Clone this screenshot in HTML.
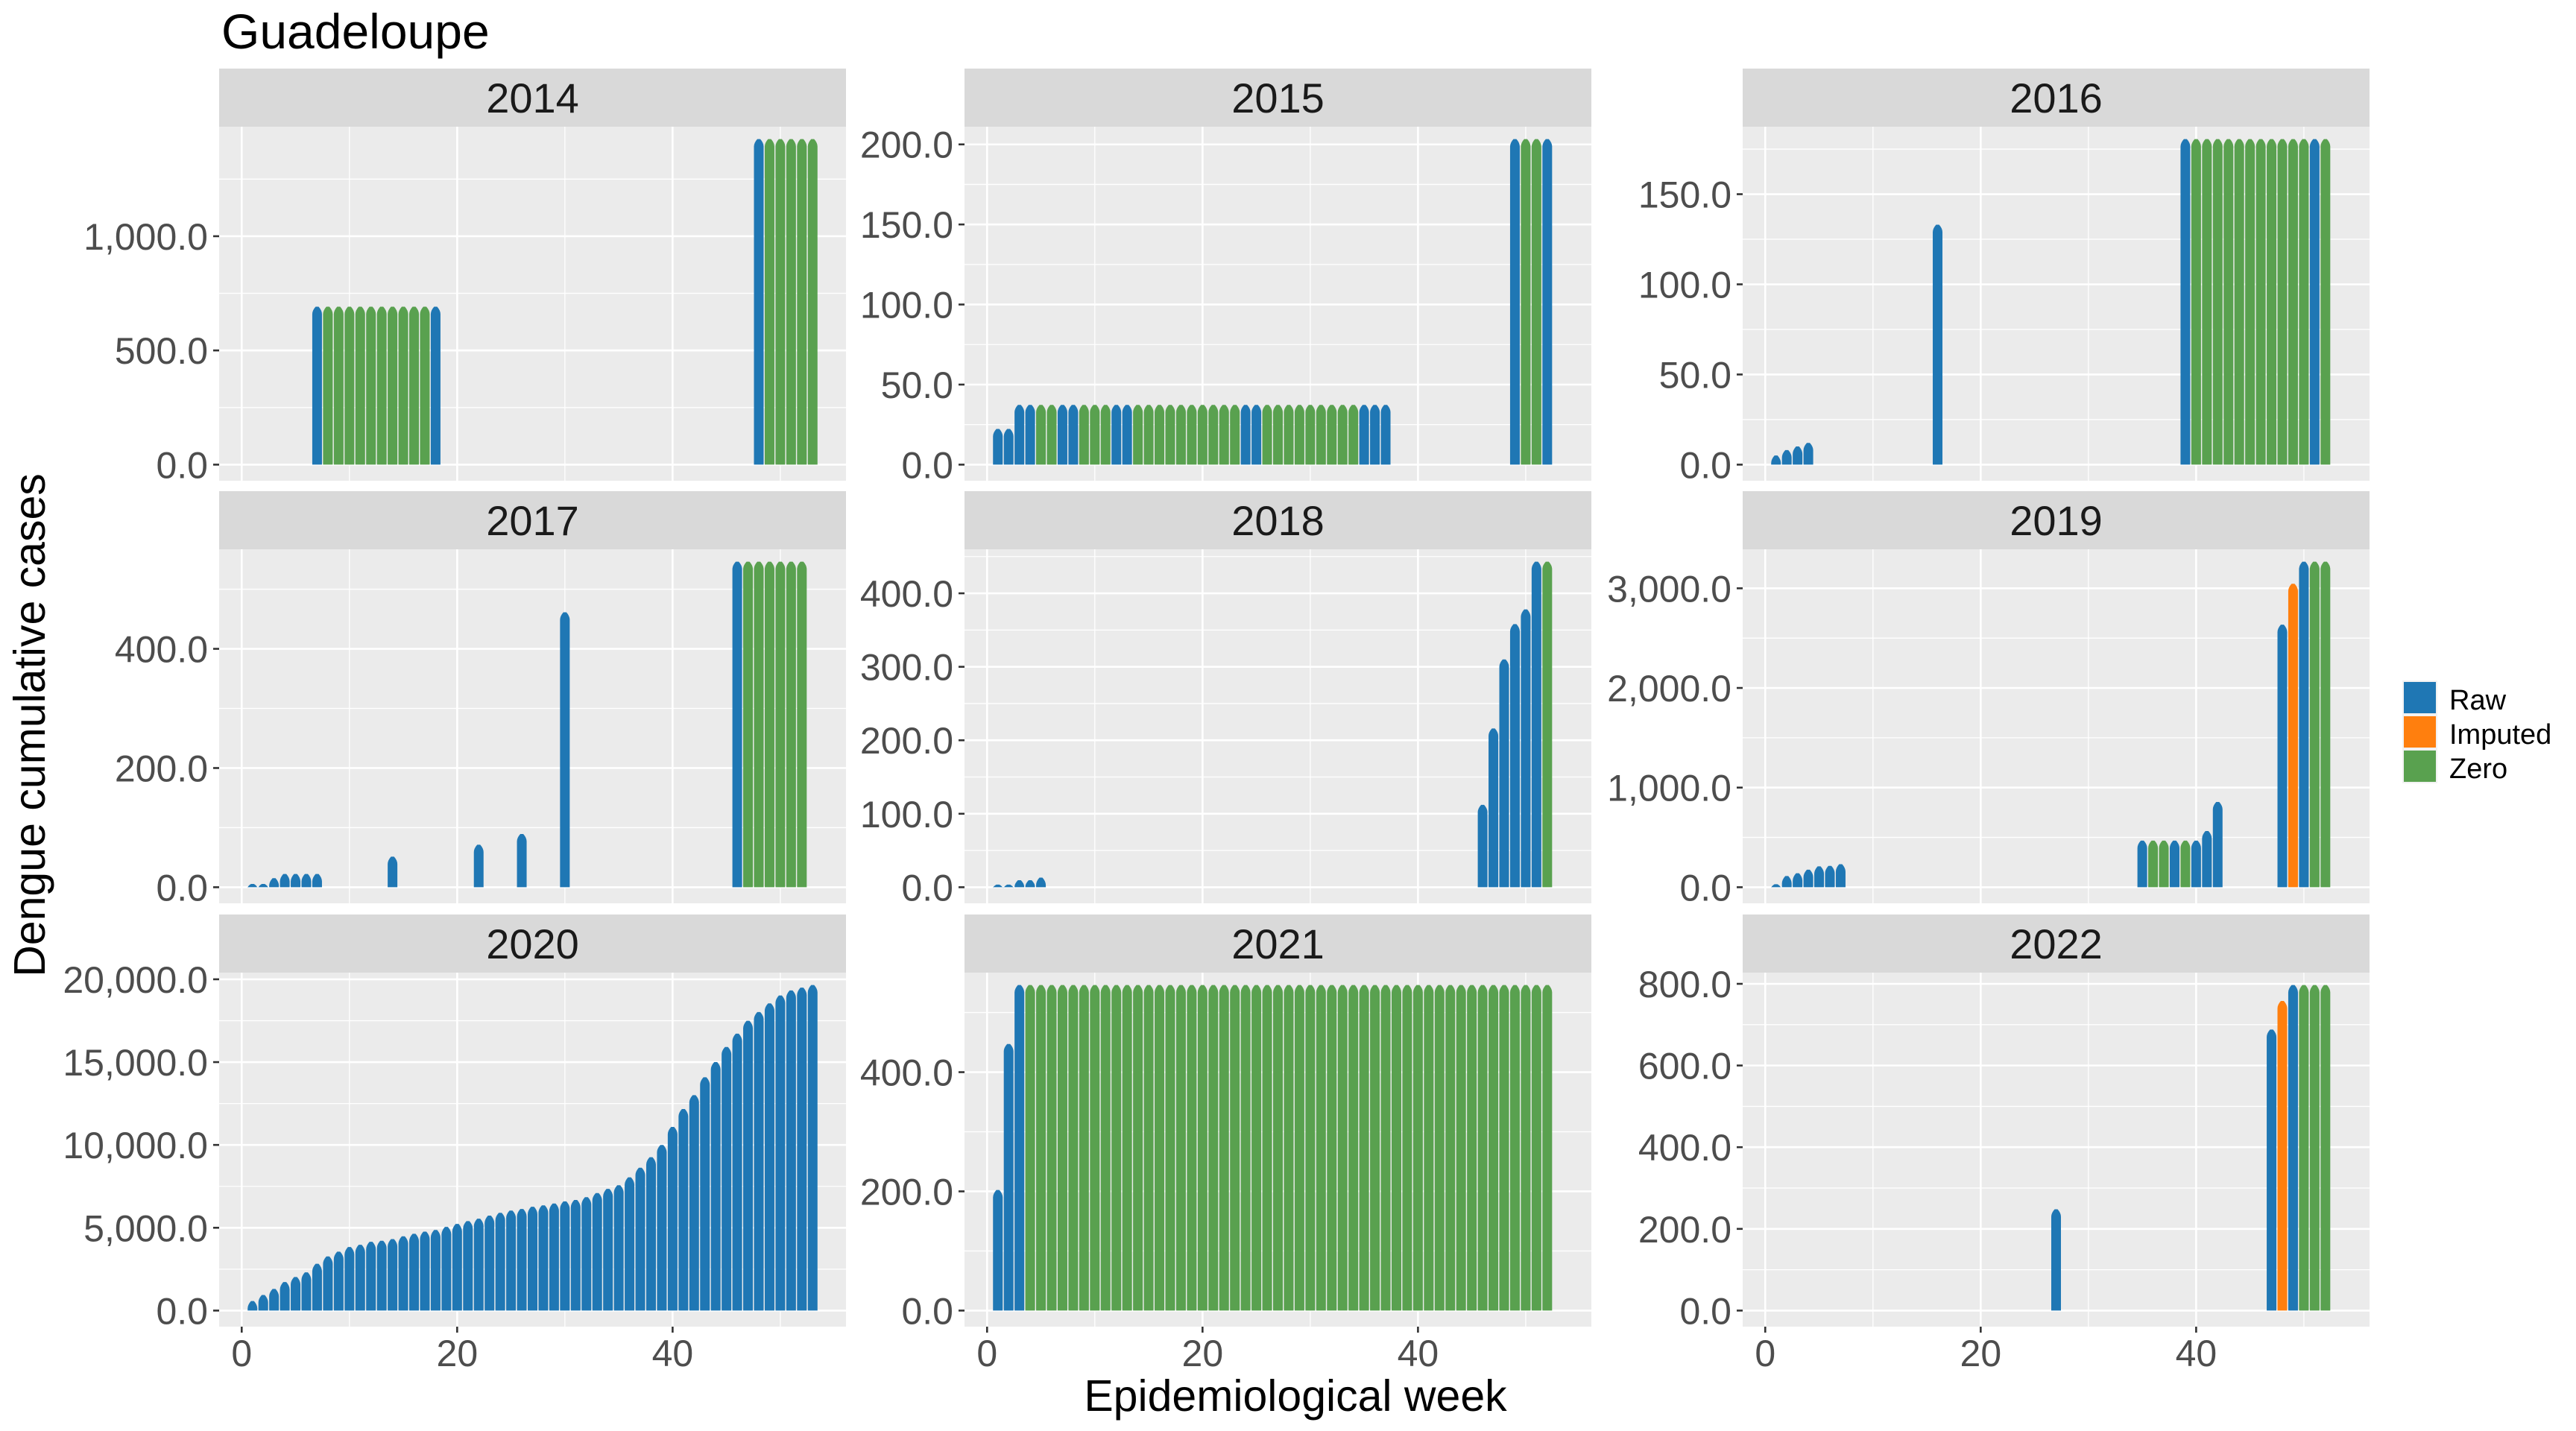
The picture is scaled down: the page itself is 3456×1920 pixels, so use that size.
<!DOCTYPE html>
<html><head><meta charset="utf-8"><title>Guadeloupe dengue cumulative cases</title>
<style>
html,body{margin:0;padding:0;background:#fff;}
svg{display:block;font-family:"Liberation Sans",Arial,sans-serif;}
</style></head>
<body>
<svg id="chart" xmlns="http://www.w3.org/2000/svg" width="3456" height="1920" viewBox="0 0 3456 1920">
<rect x="0" y="0" width="3456" height="1920" fill="#ffffff"/>
<text x="297" y="65" font-size="66" fill="#000">Guadeloupe</text>
<text transform="translate(60,973) rotate(-90)" text-anchor="middle" font-size="59" fill="#000">Dengue cumulative cases</text>
<text x="1738" y="1893" text-anchor="middle" font-size="59" fill="#000">Epidemiological week</text>
<g>
<rect x="3223" y="913" width="47" height="138" fill="#f2f2f2"/>
<rect x="3225" y="915" width="43" height="42" fill="#1f77b4"/>
<rect x="3225" y="961" width="43" height="42" fill="#ff7f0e"/>
<rect x="3225" y="1007" width="43" height="42" fill="#59a14f"/>
<text x="3286" y="952" font-size="38" fill="#000">Raw</text>
<text x="3286" y="998" font-size="38" fill="#000">Imputed</text>
<text x="3286" y="1044" font-size="38" fill="#000">Zero</text>
</g>
<g id="panels"></g>
</svg>
<script>
// ---- data (weeks, values, status: R=Raw, I=Imputed, Z=Zero) ----
const years = ["2014","2015","2016","2017","2018","2019","2020","2021","2022"];

const weeks2014 = [7,8,9,10,11,12,13,14,15,16,17,18,48,49,50,51,52,53];
const values2014 = [675,675,675,675,675,675,675,675,675,675,675,675,1409,1409,1409,1409,1409,1409];
const status2014 = "RZZZZZZZZZZRRZZZZZ";

const weeks2015 = [1,2,3,4,5,6,7,8,9,10,11,12,13,14,15,16,17,18,19,20,21,22,23,24,25,26,27,28,29,30,31,32,33,34,35,36,37,49,50,51,52];
const values2015 = [20,20,35,35,35,35,35,35,35,35,35,35,35,35,35,35,35,35,35,35,35,35,35,35,35,35,35,35,35,35,35,35,35,35,35,35,35,201,201,201,201];
const status2015 = "RRRRZZRRZZZRRZZZZZZZZZZRRZZZZZZZZZRRRRZZR";

const weeks2016 = [1,2,3,4,16,39,40,41,42,43,44,45,46,47,48,49,50,51,52];
const values2016 = [3,6,8,10,131,178.5,178.5,178.5,178.5,178.5,178.5,178.5,178.5,178.5,178.5,178.5,178.5,178.5,178.5];
const status2016 = "RRRRRRZZZZZZZZZZZRZ";

const weeks2017 = [1,2,3,4,5,6,7,14,22,26,30,46,47,48,49,50,51,52];
const values2017 = [2,2,9,16,16,16,16,45,65,83,455,540,540,540,540,540,540,540];
const status2017 = "RRRRRRRRRRRRZZZZZZ";

const weeks2018 = [1,2,3,4,5,46,47,48,49,50,51,52];
const values2018 = [1,1,5,5,8,107,211,305,353,373,438,438];
const status2018 = "RRRRRRRRRRRZ";

const weeks2019 = [1,2,3,4,5,6,7,35,36,37,38,39,40,41,42,48,49,50,51,52];
const values2019 = [10,75,103,139,172,177,194,430,430,430,430,430,430,527,818,2598,3008,3230,3230,3230];
const status2019 = "RRRRRRRRZZRZRRRRIRZZ";

const weeks2020 = [1,2,3,4,5,6,7,8,9,10,11,12,13,14,15,16,17,18,19,20,21,22,23,24,25,26,27,28,29,30,31,32,33,34,35,36,37,38,39,40,41,42,43,44,45,46,47,48,49,50,51,52,53];
const values2020 = [350,715,1080,1500,1800,2080,2600,3045,3330,3610,3745,3930,3990,4090,4260,4410,4540,4640,4825,5010,5175,5325,5510,5675,5810,5910,6040,6125,6240,6370,6455,6620,6870,7120,7340,7820,8400,9035,9770,10865,11945,12780,13860,14775,15690,16490,17270,17800,18320,18800,19100,19270,19430];
const status2020 = "RRRRRRRRRRRRRRRRRRRRRRRRRRRRRRRRRRRRRRRRRRRRRRRRRRRRR";

const weeks2021 = [1,2,3,4,5,6,7,8,9,10,11,12,13,14,15,16,17,18,19,20,21,22,23,24,25,26,27,28,29,30,31,32,33,34,35,36,37,38,39,40,41,42,43,44,45,46,47,48,49,50,51,52];
const values2021 = [196,441,540,540,540,540,540,540,540,540,540,540,540,540,540,540,540,540,540,540,540,540,540,540,540,540,540,540,540,540,540,540,540,540,540,540,540,540,540,540,540,540,540,540,540,540,540,540,540,540,540,540];
const status2021 = "RRRZZZZZZZZZZZZZZZZZZZZZZZZZZZZZZZZZZZZZZZZZZZZZZZZZ";

const weeks2022 = [27,47,48,49,50,51,52];
const values2022 = [239,679,749,788,788,788,788];
const status2022 = "RRIRZZZ";

// tick arrays per panel
const yTicks2014 = [0,500,1000];
const yTicks2015 = [0,50,100,150,200];
const yTicks2016 = [0,50,100,150];
const yTicks2017 = [0,200,400];
const yTicks2018 = [0,100,200,300,400];
const yTicks2019 = [0,1000,2000,3000];
const yTicks2020 = [0,5000,10000,15000,20000];
const yTicks2021 = [0,200,400];
const yTicks2022 = [0,200,400,600,800];
const xTicks = [0,20,40];
const xMinorTicks = [10,30,50];

const panelData = [
  [weeks2014,values2014,status2014,yTicks2014],
  [weeks2015,values2015,status2015,yTicks2015],
  [weeks2016,values2016,status2016,yTicks2016],
  [weeks2017,values2017,status2017,yTicks2017],
  [weeks2018,values2018,status2018,yTicks2018],
  [weeks2019,values2019,status2019,yTicks2019],
  [weeks2020,values2020,status2020,yTicks2020],
  [weeks2021,values2021,status2021,yTicks2021],
  [weeks2022,values2022,status2022,yTicks2022]
];

// ---- layout ----
const NS = "http://www.w3.org/2000/svg";
const colLeft = [294,1294,2338];
const stripTop = [92,659,1227];
const panelW = 841, stripH = 78, panelH = 475;
const xMin = -2.095, xMax = 56.095;
const colors = {R:"#1f77b4", I:"#ff7f0e", Z:"#59a14f"};

function mk(tag, attrs, parent){
  const e = document.createElementNS(NS, tag);
  for (const k in attrs) e.setAttribute(k, attrs[k]);
  parent.appendChild(e);
  return e;
}
function fmt(v){
  return v.toLocaleString("en-US",{minimumFractionDigits:1,maximumFractionDigits:1});
}

const root = document.getElementById("panels");
panelData.forEach((pd, i) => {
  const [wk, vals, st, yt] = pd;
  const col = i % 3, row = Math.floor(i / 3);
  const L = colLeft[col], S = stripTop[row], T = S + stripH, B = T + panelH;
  const g = mk("g", {}, root);
  
  

  const vmax = Math.max(...vals);
  const yLo = -0.05 * vmax, yHi = 1.05 * vmax;
  const xs = w => L + (w - xMin) / (xMax - xMin) * panelW;
  const ys = v => B - (v - yLo) / (yHi - yLo) * panelH;

  const strip = mk("rect", {x:L, y:S, width:panelW, height:stripH, fill:"#d9d9d9"}, g);
  
  
  const st_t = mk("text", {x:L + panelW/2, y:S + stripH/2 + 20, "text-anchor":"middle", "font-size":"56", fill:"#1a1a1a"}, g);
  st_t.textContent = years[i];
  
  

  const bg = mk("rect", {x:L, y:T, width:panelW, height:panelH, fill:"#ebebeb"}, g);
  
  

  const step = yt[1] - yt[0];
  for (let k = 0; k < yt.length + 1; k++) {
    const mv = yt[0] + step * (k + 0.5);
    if (mv > yLo && mv < yHi) {
      const ln = mk("line", {x1:L, x2:L+panelW, y1:ys(mv), y2:ys(mv), stroke:"#fff", "stroke-width":"1.3"}, g);
      
      
    }
  }
  xMinorTicks.forEach(t => {
    const ln = mk("line", {x1:xs(t), x2:xs(t), y1:T, y2:B, stroke:"#fff", "stroke-width":"1.3"}, g);
    
    
  });
  yt.forEach(t => {
    const y = ys(t);
    const ln = mk("line", {x1:L, x2:L+panelW, y1:y, y2:y, stroke:"#fff", "stroke-width":"2.6"}, g);
    
    
    const tk = mk("line", {x1:L-8, x2:L, y1:y, y2:y, stroke:"#333", "stroke-width":"2.6"}, g);
    
    
    const lb = mk("text", {x:L-15, y:y + 18, "text-anchor":"end", "font-size":"50", fill:"#4d4d4d"}, g);
    lb.textContent = fmt(t);
    
    
  });
  xTicks.forEach(t => {
    const ln = mk("line", {x1:xs(t), x2:xs(t), y1:T, y2:B, stroke:"#fff", "stroke-width":"2.6"}, g);
    
    
    if (row === 2) {
      const tk = mk("line", {x1:xs(t), x2:xs(t), y1:B, y2:B+8, stroke:"#333", "stroke-width":"2.6"}, g);
      
      
      const lb = mk("text", {x:xs(t), y:B + 53, "text-anchor":"middle", "font-size":"50", fill:"#4d4d4d"}, g);
      lb.textContent = String(t);
      
      
    }
  });

  const bw = 0.9;
  wk.forEach((w, j) => {
    const v = vals[j];
    const x0 = xs(w - bw/2), x1 = xs(w + bw/2);
    const y0 = ys(0), y1 = ys(v);
    const cap = Math.min(5, (y0 - y1) / 2 + 2);
    const xm = (x0 + x1) / 2;
    const d = "M" + x0 + "," + y0 + " L" + x0 + "," + (y1 + cap) + " Q" + x0 + "," + y1 + " " + (xm - 2) + "," + (y1 - cap) +
              " L" + (xm + 2) + "," + (y1 - cap) + " Q" + x1 + "," + y1 + " " + x1 + "," + (y1 + cap) + " L" + x1 + "," + y0 + " Z";
    const bar = mk("path", {d:d, fill:colors[st[j]]}, g);
    
    
  });
});
</script>
</body></html>
